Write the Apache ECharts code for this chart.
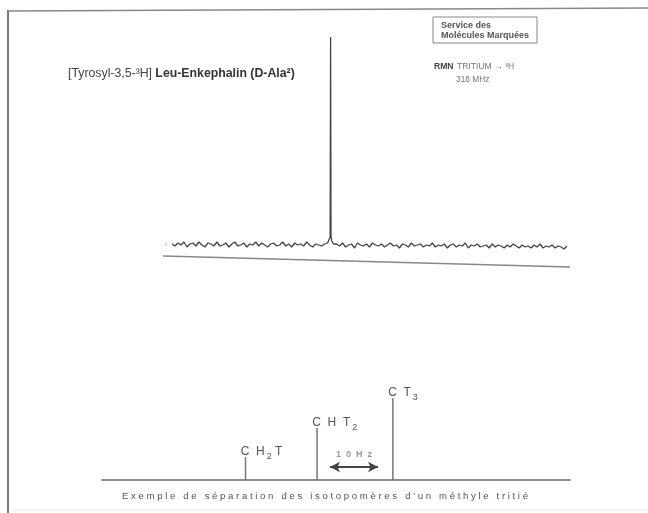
<!DOCTYPE html>
<html>
<head>
<meta charset="utf-8">
<script src="https://cdn.jsdelivr.net/npm/echarts@6/dist/echarts.min.js"></script>
<style>
html,body{margin:0;padding:0;background:#fff;}
#c{width:648px;height:513px;}
</style>
</head>
<body>
<div id="c"></div>
<script>
// Top spectrum: tritium NMR trace (sample index vs. intensity), peak region sampled finer
const spectrumValues = [
  1, -1, 2, 0, 3, -2, 1, 2, -1, 3, 0, -2, 2, 1, -1, 3, -1, 0, 2, -2,
  1, 3, -1, 0, 2, -2, 1, 0, 3, -1, 2, 0, -2, 1, 2, -1, 0, 3, -1, 1,
  -2, 2, 0, 1, -1, 3, 0, -2, 1, 0, -1, 1, 2,
  null,
  1, 1, -1, 2, -2, 0, 1, -3, 2, 0, -1, 1, -2, 2, 0, -1, 1, -2, 0,
  2, -1, 0, -3, 1, 0, -2, 2, -1, 0, 1, -2, 0, -1, 2, -2, 0, -1, 1, -3,
  0, 1, -2, 0, -1, 2, -3, 0, -1, 1, -2, -1, 0, -3, 1, -2, 0, -1, -3, 0,
  -2, 1, -1, -3, 0, -2, -1, -3, 0, -2, 1, -3, -1, -2, 0, -3, -1, -2, -4, -1
];
const peakSamples = [[52.6, 3], [52.85, 8], [53, 208], [53.15, 9], [53.4, 4]];
const spectrumRule = [[-3, -11], [133, -22]];

// Bottom: stick spectrum of tritiated methyl isotopomers
const isotopomers = ['CH2T', 'CHT2', 'CT3'];
const shiftsHz = [29.9, 44.8, 60.6];
const intensities = [23, 52, 82];
const scaleBarHz = [47.5, 57.5];
const scaleBarLabel = '1  0  H  z';

const labelRich = {
  CH2T: '{l|C  H}{s|2}{l| T}',
  CHT2: '{l|C  H  T}{s|2}',
  CT3: '{l|C  T}{s|3}'
};

const FF = '"Liberation Sans", Arial, Helvetica, sans-serif';

const spectrumData = [];
spectrumValues.forEach((v, i) => {
  if (v === null) {
    peakSamples.forEach(p => spectrumData.push(p));
  } else {
    spectrumData.push([i, v]);
  }
});

const chart = echarts.init(document.getElementById('c'), null, {renderer: 'canvas'});

const option = {
  animation: false,
  backgroundColor: '#ffffff',
  grid: [
    {left: 163, width: 407, top: 30, height: 240},
    {left: 102, width: 468, top: 380, height: 100}
  ],
  xAxis: [
    {type: 'value', gridIndex: 0, min: -3, max: 133, show: false},
    {type: 'value', gridIndex: 1, min: 0, max: 97.5,
      axisLine: {show: true, onZero: true, lineStyle: {color: '#666', width: 1.5}},
      axisTick: {show: false}, axisLabel: {show: false}, splitLine: {show: false}}
  ],
  yAxis: [
    {type: 'value', gridIndex: 0, min: -25, max: 215, show: false},
    {type: 'value', gridIndex: 1, min: 0, max: 100, show: false}
  ],
  series: [
    {
      type: 'line', xAxisIndex: 0, yAxisIndex: 0, symbol: 'none',
      data: spectrumData,
      lineStyle: {color: '#444', width: 1.3}
    },
    {
      type: 'line', xAxisIndex: 0, yAxisIndex: 0, symbol: 'none',
      data: spectrumRule,
      lineStyle: {color: '#888', width: 1.5}
    },
    {
      type: 'bar', xAxisIndex: 1, yAxisIndex: 1, barWidth: 1.5,
      itemStyle: {color: '#777'},
      data: shiftsHz.map((x, i) => ({value: [x, intensities[i]], name: isotopomers[i]})),
      label: {
        show: true,
        position: [-4, 4],
        align: 'left',
        verticalAlign: 'bottom',
        formatter: p => labelRich[p.name],
        rich: {
          l: {fontSize: 12, fontFamily: FF, color: '#555', lineHeight: 18, verticalAlign: 'middle'},
          s: {fontSize: 9, fontFamily: FF, color: '#555', lineHeight: 8, verticalAlign: 'bottom', padding: [0, 0, 0, 2]}
        }
      },
      markLine: {
        silent: true,
        symbol: ['arrow', 'arrow'],
        symbolSize: [8, 10],
        lineStyle: {color: '#444', width: 2, type: 'solid'},
        label: {
          show: true, position: 'middle', formatter: scaleBarLabel, distance: 8,
          fontSize: 9, fontWeight: 'bold', fontFamily: FF, color: '#999'
        },
        data: [[{coord: [scaleBarHz[0], 13]}, {coord: [scaleBarHz[1], 13]}]]
      }
    }
  ],
  graphic: [
    {type: 'line', shape: {x1: 8, y1: 10, x2: 8, y2: 513}, style: {stroke: '#777', lineWidth: 2}},
    {type: 'line', shape: {x1: 8, y1: 11, x2: 648, y2: 8}, style: {stroke: '#888', lineWidth: 1.5}},
    {type: 'line', shape: {x1: 12, y1: 510, x2: 648, y2: 510}, style: {stroke: '#e4e4e4', lineWidth: 1}},
    {type: 'rect', shape: {x: 433, y: 17, width: 104, height: 26}, style: {fill: 'none', stroke: '#888', lineWidth: 1}},
    {type: 'text', x: 441, y: 26, style: {text: 'Service des', fontSize: 9, fontWeight: 'bold', fontFamily: FF, fill: '#555', verticalAlign: 'middle'}},
    {type: 'text', x: 441, y: 36, style: {text: 'Molécules Marquées', fontSize: 9, fontWeight: 'bold', fontFamily: FF, fill: '#555', verticalAlign: 'middle'}},
    {type: 'text', x: 434, y: 67, style: {
      text: '{b|RMN} {r|TRITIUM → ³H}', verticalAlign: 'middle',
      rich: {
        b: {fontSize: 8.6, fontWeight: 'bold', fontFamily: FF, fill: '#444'},
        r: {fontSize: 8.6, fontFamily: FF, fill: '#777'}
      }
    }},
    {type: 'text', x: 456, y: 80, style: {text: '318 MHz', fontSize: 8.4, fontFamily: FF, fill: '#777', verticalAlign: 'middle'}},
    {type: 'text', x: 68, y: 74, style: {
      text: '{r|[Tyrosyl-3,5-³H]} {b|Leu-Enkephalin (D-Ala²)}', verticalAlign: 'middle',
      rich: {
        r: {fontSize: 12.3, fontFamily: FF, fill: '#444'},
        b: {fontSize: 12.3, fontWeight: 'bold', fontFamily: FF, fill: '#333'}
      }
    }},
    {type: 'text', x: 165, y: 245, style: {text: '‹', fontSize: 7, fontFamily: FF, fill: '#999', verticalAlign: 'middle'}},
    {type: 'text', x: 122, y: 496, style: {
      text: 'E x e m p l e   d e   s é p a r a t i o n   d e s   i s o t o p o m è r e s   d \' u n   m é t h y l e   t r i t i é',
      fontSize: 9.6, fontFamily: FF, fill: '#555', verticalAlign: 'middle'
    }}
  ]
};
chart.setOption(option);
</script>
</body>
</html>
